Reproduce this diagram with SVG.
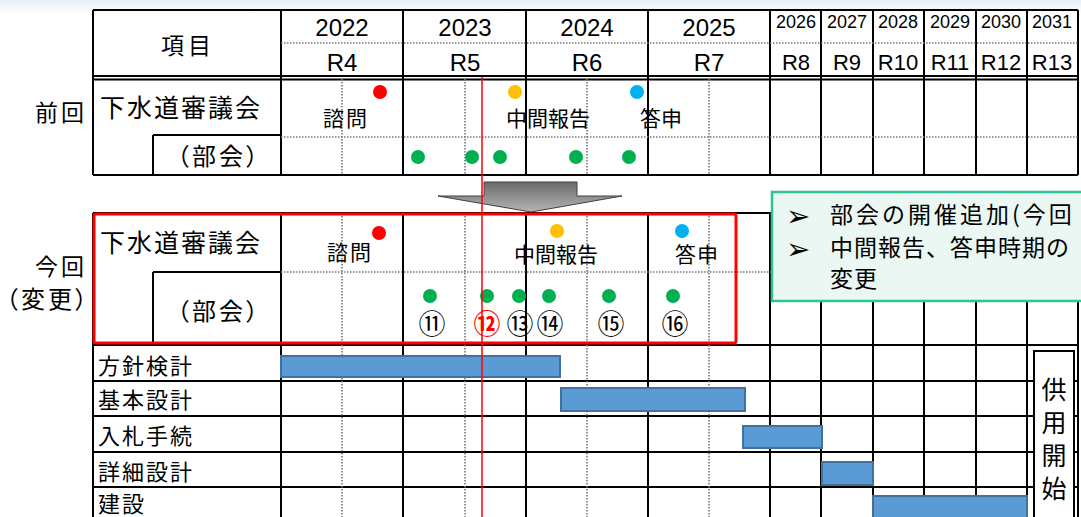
<svg xmlns="http://www.w3.org/2000/svg" width="1081" height="517" viewBox="0 0 1081 517">
<style>
.s{stroke:#000;stroke-width:2;fill:none}
.d{stroke:#777;stroke-width:1.6;stroke-dasharray:1.5 1.5;fill:none}
.jp{font-family:"Noto Sans CJK JP","Noto Sans",sans-serif;fill:#000}
.pa{font-feature-settings:"palt"}
.lat{font-family:"Liberation Sans",Arial,sans-serif;fill:#000}
.bar{fill:#5B9BD5;stroke:#41719C;stroke-width:2}
.g{fill:#00B050}
.bul{font-family:"DejaVu Sans",sans-serif;font-size:29px;fill:#000}
</style>
<defs>
<linearGradient id="bg" x1="0" y1="0" x2="0" y2="1"><stop offset="0" stop-color="#e6eef6"/><stop offset="1" stop-color="#ffffff"/></linearGradient>
<linearGradient id="ag" x1="0" y1="0" x2="0" y2="1"><stop offset="0" stop-color="#6a6a6a"/><stop offset="1" stop-color="#b5b5b5"/></linearGradient>
</defs>
<rect width="1081" height="517" fill="#fff"/>
<rect width="1081" height="14" fill="url(#bg)"/>

<g id="upper-table">
<g class="s">
<line x1="93" y1="10" x2="1078" y2="10"/>
<line x1="93" y1="76" x2="1078" y2="76"/>
<line x1="93" y1="79.5" x2="1078" y2="79.5"/>
<line x1="93" y1="175" x2="1078" y2="175"/>
<line x1="153" y1="135" x2="281" y2="135"/>
<line x1="93" y1="10" x2="93" y2="175"/>
<line x1="153" y1="135" x2="153" y2="175"/>
<line x1="281" y1="10" x2="281" y2="175"/>
<line x1="403" y1="10" x2="403" y2="175"/>
<line x1="526" y1="10" x2="526" y2="175"/>
<line x1="648" y1="10" x2="648" y2="175"/>
<line x1="770" y1="10" x2="770" y2="175"/>
<line x1="821" y1="10" x2="821" y2="175"/>
<line x1="873" y1="10" x2="873" y2="175"/>
<line x1="924" y1="10" x2="924" y2="175"/>
<line x1="976" y1="10" x2="976" y2="175"/>
<line x1="1027" y1="10" x2="1027" y2="175"/>
<line x1="1078" y1="10" x2="1078" y2="175"/>
</g>
<g class="d">
<line x1="281" y1="43" x2="1078" y2="43"/>
<line x1="281" y1="137" x2="1078" y2="137"/>
<line x1="342" y1="79" x2="342" y2="175"/>
<line x1="465" y1="79" x2="465" y2="175"/>
<line x1="587" y1="79" x2="587" y2="175"/>
<line x1="709" y1="79" x2="709" y2="175"/>
</g>
<text class="jp" x="188" y="54" font-size="23" letter-spacing="4" text-anchor="middle">項目</text>
<g class="lat" text-anchor="middle" font-size="24">
<text x="342" y="36">2022</text><text x="465" y="36">2023</text><text x="587" y="36">2024</text><text x="709" y="36">2025</text>
<text x="342" y="71">R4</text><text x="465" y="71">R5</text><text x="587" y="71">R6</text><text x="709" y="71">R7</text>
</g>
<g class="lat" text-anchor="middle" font-size="18">
<text x="796" y="28">2026</text><text x="847" y="28">2027</text><text x="898" y="28">2028</text><text x="950" y="28">2029</text><text x="1001" y="28">2030</text><text x="1052" y="28">2031</text>
</g>
<g class="lat" text-anchor="middle" font-size="22">
<text x="796" y="70">R8</text><text x="847" y="70">R9</text><text x="898" y="70">R10</text><text x="950" y="70">R11</text><text x="1001" y="70">R12</text><text x="1052" y="70">R13</text>
</g>
</g>

<g id="label-zenkai">
<text class="jp" x="87" y="121" font-size="23" letter-spacing="3" text-anchor="end">前回</text>
</g>

<g id="upper-rows">
<text class="jp" x="100" y="117" font-size="25" letter-spacing="2">下水道審議会</text>
<text class="jp pa" x="177" y="165" font-size="24" letter-spacing="3">（部会）</text>
<circle cx="380" cy="92" r="7" fill="#FF0000"/>
<circle cx="515" cy="92" r="7" fill="#FFC000"/>
<circle cx="637" cy="92" r="7" fill="#00B0F0"/>
<text class="jp" x="346" y="126" font-size="21" letter-spacing="2" text-anchor="middle">諮問</text>
<text class="jp" x="548" y="126" font-size="21" text-anchor="middle">中間報告</text>
<text class="jp" x="661" y="126" font-size="21" text-anchor="middle">答申</text>
<circle class="g" cx="418" cy="157" r="7"/>
<circle class="g" cx="472" cy="157" r="7"/>
<circle class="g" cx="500" cy="157" r="7"/>
<circle class="g" cx="576" cy="157" r="7"/>
<circle class="g" cx="629" cy="157" r="7"/>
</g>

<g id="arrow">
<polygon points="484,182 577,182 577,196 622,196 531,212 438,196 484,196" fill="url(#ag)" stroke="#404040" stroke-width="1"/>
</g>

<g id="lower-table">
<g class="s">
<line x1="93" y1="213" x2="1078" y2="213"/>
<line x1="153" y1="272" x2="281" y2="272"/>
<line x1="93" y1="345" x2="1078" y2="345"/>
<line x1="93" y1="381" x2="1078" y2="381"/>
<line x1="93" y1="416" x2="1078" y2="416"/>
<line x1="93" y1="452" x2="1078" y2="452"/>
<line x1="93" y1="487" x2="1078" y2="487"/>
<line x1="93" y1="213" x2="93" y2="517"/>
<line x1="153" y1="272" x2="153" y2="345"/>
<line x1="281" y1="213" x2="281" y2="517"/>
<line x1="403" y1="213" x2="403" y2="517"/>
<line x1="526" y1="213" x2="526" y2="517"/>
<line x1="648" y1="213" x2="648" y2="517"/>
<line x1="770" y1="213" x2="770" y2="517"/>
<line x1="821" y1="213" x2="821" y2="517"/>
<line x1="873" y1="213" x2="873" y2="517"/>
<line x1="924" y1="213" x2="924" y2="517"/>
<line x1="976" y1="213" x2="976" y2="517"/>
<line x1="1027" y1="213" x2="1027" y2="517"/>
<line x1="1078" y1="213" x2="1078" y2="517"/>
</g>
<g class="d">
<line x1="281" y1="272" x2="1078" y2="272"/>
<line x1="342" y1="213" x2="342" y2="517"/>
<line x1="465" y1="213" x2="465" y2="517"/>
<line x1="587" y1="213" x2="587" y2="517"/>
<line x1="709" y1="213" x2="709" y2="517"/>
</g>
</g>

<g id="label-konkai">
<text class="jp" x="87" y="275" font-size="23" letter-spacing="3" text-anchor="end">今回</text>
<text class="jp pa" x="6" y="308" font-size="24" letter-spacing="3">（変更）</text>
</g>

<g id="lower-rows">
<text class="jp" x="100" y="252" font-size="25" letter-spacing="2">下水道審議会</text>
<text class="jp pa" x="177" y="320" font-size="24" letter-spacing="3">（部会）</text>
<circle cx="379" cy="233" r="7" fill="#FF0000"/>
<circle cx="557" cy="231" r="7" fill="#FFC000"/>
<circle cx="682" cy="231" r="7" fill="#00B0F0"/>
<text class="jp" x="350" y="260" font-size="21" letter-spacing="2" text-anchor="middle">諮問</text>
<text class="jp" x="556" y="262" font-size="21" text-anchor="middle">中間報告</text>
<text class="jp" x="697" y="262" font-size="21" letter-spacing="1" text-anchor="middle">答申</text>
<circle class="g" cx="430" cy="296" r="7"/>
<circle class="g" cx="487" cy="296" r="7"/>
<circle class="g" cx="519" cy="296" r="7"/>
<circle class="g" cx="549" cy="296" r="7"/>
<circle class="g" cx="609" cy="296" r="7"/>
<circle class="g" cx="673" cy="296" r="7"/>
<g class="jp" font-size="27" text-anchor="middle">
<text x="432" y="334">⑪</text>
<text x="487" y="334" style="fill:#FF0000" font-weight="bold">⑫</text>
<text x="520" y="334">⑬</text>
<text x="550" y="334">⑭</text>
<text x="611" y="334">⑮</text>
<text x="675" y="334">⑯</text>
</g>
</g>

<g id="highlight-box">
<rect x="94" y="214" width="642" height="129" rx="2" fill="none" stroke="#FF0000" stroke-width="3"/>
</g>

<g id="callout">
<rect x="772" y="192" width="320" height="109" fill="#EBF7F2" stroke="#2EC49A" stroke-width="2.5"/>
<text class="bul" x="786" y="226">➢</text>
<text class="bul" x="786" y="259">➢</text>
<text class="jp" x="830" y="223" font-size="23" letter-spacing="3">部会の開催追加(今回</text>
<text class="jp" x="830" y="256" font-size="23" letter-spacing="1">中間報告、答申時期の</text>
<text class="jp" x="830" y="287" font-size="23" letter-spacing="1">変更</text>
</g>

<g id="tasks">
<text class="jp" x="98" y="374" font-size="22" letter-spacing="2">方針検計</text>
<text class="jp" x="98" y="408" font-size="22" letter-spacing="2">基本設計</text>
<text class="jp" x="98" y="444" font-size="22" letter-spacing="2">入札手続</text>
<text class="jp" x="98" y="480" font-size="22" letter-spacing="2">詳細設計</text>
<text class="jp" x="98" y="512" font-size="22" letter-spacing="2">建設</text>
<rect class="bar" x="281" y="356" width="279" height="21"/>
<rect class="bar" x="561" y="388" width="184" height="23"/>
<rect class="bar" x="743" y="426" width="79" height="22"/>
<rect class="bar" x="822" y="462" width="51" height="23"/>
<rect class="bar" x="873" y="496" width="154" height="30"/>
</g>

<g id="kyoyo-kaishi">
<rect x="1034" y="351" width="40" height="180" fill="#fff" stroke="#000" stroke-width="2"/>
<g class="jp" font-size="25" text-anchor="middle">
<text x="1054" y="399">供</text>
<text x="1054" y="432">用</text>
<text x="1054" y="465">開</text>
<text x="1054" y="498">始</text>
</g>
</g>

<g id="connectors">
<line x1="482" y1="77" x2="482" y2="517" stroke="#FF0000" stroke-width="1.5"/>
</g>
</svg>
